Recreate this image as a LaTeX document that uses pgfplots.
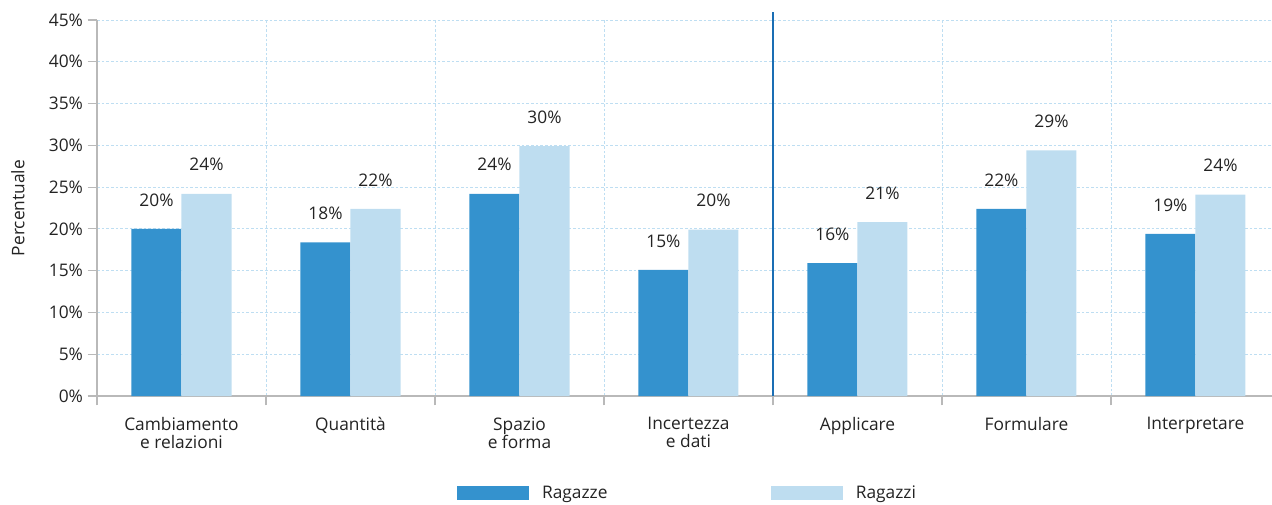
\documentclass[border=0pt]{standalone}
\usepackage{fontspec}
\setmainfont{Open Sans}
\usepackage{pgfplots}
\pgfplotsset{compat=1.18}
\definecolor{dblue}{RGB}{52,146,206}
\definecolor{lblue}{RGB}{190,221,240}
\definecolor{gridc}{RGB}{190,222,242}
\definecolor{sepc}{RGB}{26,110,180}
\definecolor{axisgray}{RGB}{185,185,185}
\definecolor{txt}{RGB}{35,35,35}
\begin{document}
\begin{tikzpicture}[font=\fontsize{13}{13.5}\selectfont, text=txt]
\begin{axis}[
  at={(72.75pt,81pt)}, anchor=south west,
  scale only axis, width=881.25pt, height=282pt,
  xmin=-0.5, xmax=6.453, ymin=0, ymax=45,
  clip=false,
  axis x line*=bottom, axis y line*=left,
  axis line style={axisgray, line width=0.9pt},
  /pgf/number format/assume math mode=true,
  ytick={0,5,...,45},
  yticklabel={\pgfmathprintnumber{\tick}\%},
  tick align=outside,
  major tick length=7pt,
  tick style={axisgray, line width=0.9pt},
  xtick={-0.5,0.5,...,5.5},
  xticklabels={},
  extra x ticks={0,...,6},
  extra x tick labels={{Cambiamento\\e relazioni},Quantità,{Spazio\\e forma},{Incertezza\\e dati},Applicare,Formulare,Interpretare},
  extra x tick style={grid=none, tick style={draw=none}, xticklabel style={align=center, yshift=-5.5pt, font=\fontsize{13}{13.5}\selectfont}},
  xmajorgrids=true, ymajorgrids=true,
  grid style={gridc, dash pattern=on 2pt off 1.5pt, line width=0.6pt},
  ylabel={Percentuale},
  ylabel style={at={(axis description cs:0,0.5)}, anchor=center, yshift=59.25pt},
  ybar=0pt, bar width=0.296,
  nodes near coords={\pgfmathprintnumber[fixed,precision=0]{\pgfplotspointmeta}\%},
  every node near coord/.append style={anchor=center, yshift=21.75pt, text=txt},
  legend columns=2,
  legend style={at={(0.503,-0.258)}, anchor=center, draw=none, fill=none,
    /tikz/every even column/.append style={column sep=120.75pt}},
  legend image code/.code={\fill[#1] (0pt,-4.9pt) rectangle (54pt,4.9pt); \path (61.5pt,0pt);},
]
\addplot[fill=dblue, draw=none] coordinates {(0,20.0)(1,18.4)(2,24.2)(3,15.1)(4,15.9)(5,22.4)(6,19.4)};
\addplot[fill=lblue, draw=none] coordinates {(0,24.2)(1,22.4)(2,29.9)(3,19.9)(4,20.8)(5,29.4)(6,24.1)};
\legend{Ragazze, Ragazzi}
\draw[sepc, line width=1.4pt] (axis cs:3.5,0) -- (axis cs:3.5,46);
\end{axis}
\pgfresetboundingbox
\useasboundingbox (0,0) rectangle (954pt,378pt);
\end{tikzpicture}
\end{document}
